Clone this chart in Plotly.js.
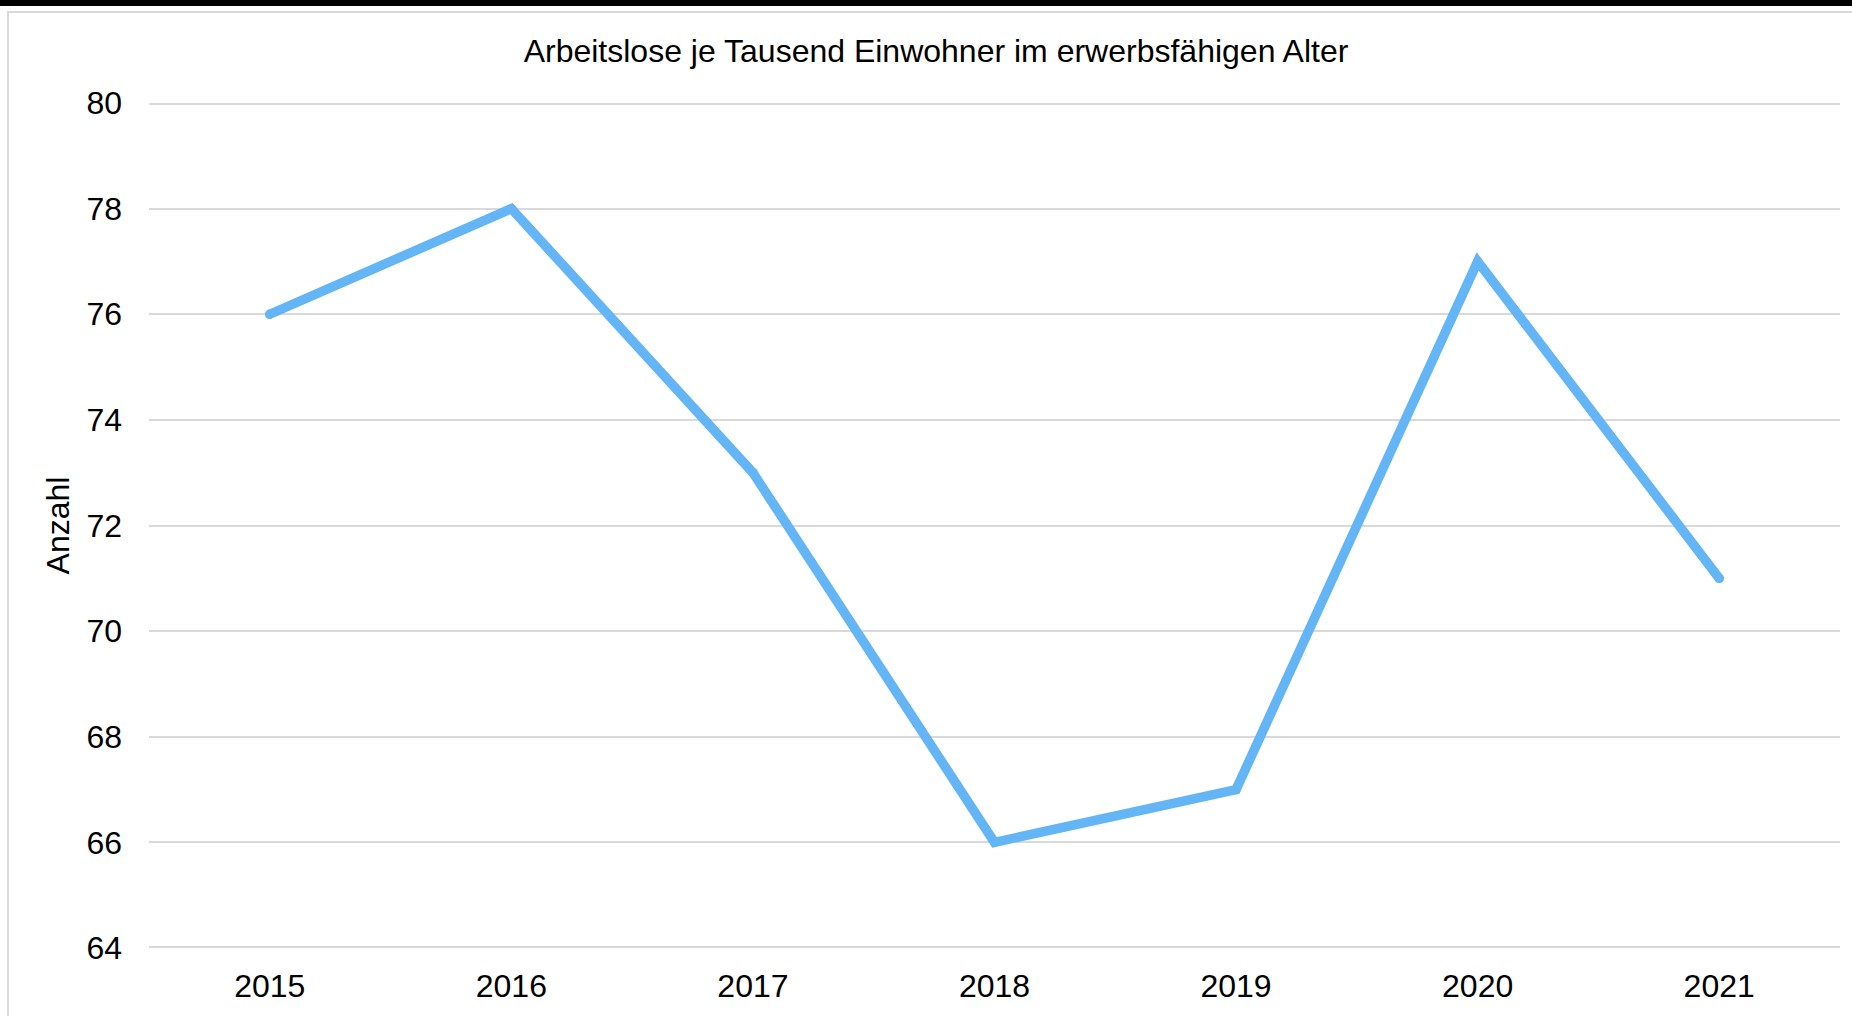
<!DOCTYPE html>
<html>
<head>
<meta charset="utf-8">
<script src="https://cdn.plot.ly/plotly-3.0.1.min.js"></script>
<style>
  html, body { margin: 0; padding: 0; background: #ffffff; }
  #chart { position: absolute; left: 0; top: 0; width: 1852px; height: 1016px; }
  #topbar { position: absolute; left: 0; top: 0; width: 1852px; height: 6px; background: #000; pointer-events: none; }
  #frame { position: absolute; left: 7px; top: 11px; width: 1845px; height: 1005px;
           border-left: 2px solid #d9d9d9; border-top: 2px solid #d9d9d9; box-sizing: border-box; pointer-events: none; }
</style>
</head>
<body>
<div id="chart"></div>
<div id="frame"></div>
<div id="topbar"></div>
<script>
const years = ['2015', '2016', '2017', '2018', '2019', '2020', '2021'];
const arbeitslose = [76, 78, 73, 66, 67, 77, 71];
const yTicks = [64, 66, 68, 70, 72, 74, 76, 78, 80];

const FONT = 'Liberation Sans, Arial, Helvetica, sans-serif';
const GRID = '#d9d9d9';

const trace = {
  type: 'scatter',
  mode: 'lines+markers',
  x: years,
  y: arbeitslose,
  line: { color: '#64B5F6', width: 9.5 },
  marker: { color: '#64B5F6', size: 9.5 },
  hoverinfo: 'x+y'
};

// edge gridlines (Plotly omits grid lines lying exactly on the plot edges;
// shapes are clipped to the plot area, so half of the stroke remains visible)
const edgeTicks = [yTicks[0], yTicks[yTicks.length - 1]];
const edgeGrid = edgeTicks.map(function (v) {
  return {
    type: 'line', xref: 'paper', yref: 'y', x0: 0, x1: 1, y0: v, y1: v,
    line: { color: GRID, width: 4 }, layer: 'below'
  };
});

const layout = {
  width: 1852,
  height: 1016,
  margin: { l: 149, r: 12, t: 103, b: 68, pad: 0 },
  paper_bgcolor: 'rgba(0,0,0,0)',
  plot_bgcolor: 'rgba(0,0,0,0)',
  showlegend: false,
  font: { family: FONT, color: '#000000', size: 32 },
  title: {
    text: 'Arbeitslose je Tausend Einwohner im erwerbsfähigen Alter',
    font: { family: FONT, size: 32, color: '#000000' },
    xref: 'container', x: 0.5054, xanchor: 'center',
    yref: 'container', y: 1 - 51 / 1016, yanchor: 'middle'
  },
  shapes: edgeGrid,
  xaxis: {
    type: 'category',
    range: [-0.5, 6.5],
    showgrid: false,
    zeroline: false,
    showline: false,
    ticks: '',
    ticklabelstandoff: 16,
    tickfont: { family: FONT, size: 32, color: '#000000' },
    fixedrange: true
  },
  yaxis: {
    range: [64, 80],
    tickvals: yTicks,
    ticktext: yTicks.map(String),
    showgrid: true,
    gridcolor: GRID,
    gridwidth: 2,
    zeroline: false,
    showline: false,
    ticks: '',
    ticklabelstandoff: 26,
    tickfont: { family: FONT, size: 32, color: '#000000' },
    title: { text: 'Anzahl', font: { family: FONT, size: 32, color: '#000000' }, standoff: 7 },
    automargin: true,
    fixedrange: true
  }
};

Plotly.newPlot('chart', [trace], layout, { displayModeBar: false, staticPlot: true }).then(function () {
  document.querySelectorAll('.js-line').forEach(function (p) {
    p.style.strokeLinecap = 'round';
    p.style.strokeLinejoin = 'miter';
  });
});
</script>
</body>
</html>
